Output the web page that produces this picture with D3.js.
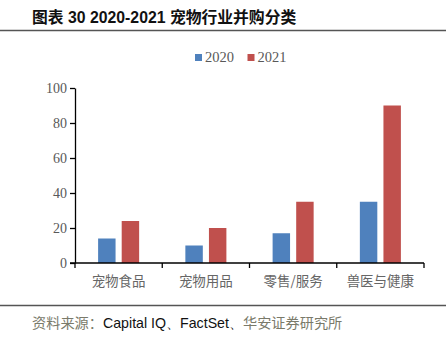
<!DOCTYPE html>
<html>
<head>
<meta charset="utf-8">
<script src="https://cdn.jsdelivr.net/npm/d3@7"></script>
<style>
  body { margin: 0; background: #fff; }
  svg { display: block; }
</style>
</head>
<body>
<svg id="chart" width="446" height="339"></svg>
<script>
// M&A deal counts by pet-industry segment, 2020 vs 2021
const categories = ['宠物食品', '宠物用品', '零售/服务', '兽医与健康'];
const years = ['2020', '2021'];
const values2020 = [14, 10, 17, 35];
const values2021 = [24, 20, 35, 90];
const yTicks = [0, 20, 40, 60, 80, 100];

const colors = { '2020': '#4F81BD', '2021': '#C0504D' };
const serif = '"Liberation Serif", "Times New Roman", serif';
const cjk = '"Noto Sans CJK SC", sans-serif';

const svg = d3.select('#chart');

// header and footer rules
svg.append('text')
  .attr('x', 32).attr('y', 23)
  .attr('font-family', '"Liberation Sans", ' + cjk)
  .attr('font-weight', 'bold')
  .attr('font-size', 15.8)
  .attr('fill', '#111')
  .text('图表 30 2020-2021 宠物行业并购分类');
svg.append('line')
  .attr('x1', 0).attr('x2', 446).attr('y1', 30.5).attr('y2', 30.5)
  .attr('stroke', '#555').attr('stroke-width', 1.5);
svg.append('line')
  .attr('x1', 0).attr('x2', 446).attr('y1', 305.5).attr('y2', 305.5)
  .attr('stroke', '#555').attr('stroke-width', 1.5);

const src = svg.append('text')
  .attr('x', 32).attr('y', 328)
  .attr('font-size', 14.2);
src.append('tspan').attr('font-family', cjk).attr('fill', '#7a7a6a').text('资料来源：');
src.append('tspan').attr('font-family', '"Liberation Sans", Arial, sans-serif').attr('fill', '#111').text('Capital IQ、FactSet、');
src.append('tspan').attr('font-family', cjk).attr('fill', '#7a7a6a').text('华安证券研究所');

// plot area
const plotLeft = 75, plotRight = 424, plotTop = 88, plotBottom = 263;

const x = d3.scaleBand()
  .domain(categories)
  .range([plotLeft, plotRight])
  .paddingInner(0)
  .paddingOuter(0);

const xInner = d3.scaleBand()
  .domain(years)
  .range([0, x.bandwidth()])
  .paddingInner(0.26)
  .paddingOuter(0.98);

const y = d3.scaleLinear()
  .domain([0, 100])
  .range([plotBottom, plotTop]);

const rows = categories.map((c, i) => ({
  category: c,
  series: [
    { year: '2020', value: values2020[i] },
    { year: '2021', value: values2021[i] }
  ]
}));

// bars
const groups = svg.append('g')
  .selectAll('g')
  .data(rows)
  .join('g')
  .attr('transform', d => `translate(${x(d.category)},0)`);

groups.selectAll('rect')
  .data(d => d.series)
  .join('rect')
  .attr('x', d => xInner(d.year))
  .attr('y', d => y(d.value))
  .attr('width', xInner.bandwidth())
  .attr('height', d => y(0) - y(d.value))
  .attr('fill', d => colors[d.year]);

// y axis
const yAxis = svg.append('g')
  .attr('transform', `translate(${plotLeft},0)`)
  .call(d3.axisLeft(y).tickValues(yTicks).tickSize(5).tickPadding(3).tickSizeOuter(0));
yAxis.select('.domain').attr('stroke', '#000').attr('stroke-width', 1.3);
yAxis.selectAll('.tick line').attr('stroke', '#000').attr('stroke-width', 1.3);
yAxis.selectAll('.tick text')
  .attr('font-family', serif)
  .attr('font-size', 14)
  .attr('fill', '#595959');

// x axis with ticks on category boundaries
const xAxis = svg.append('g')
  .attr('transform', `translate(0,${plotBottom})`);
xAxis.append('line')
  .attr('x1', plotLeft - 5).attr('x2', plotRight)
  .attr('stroke', '#000').attr('stroke-width', 1.3);
xAxis.selectAll('line.tk')
  .data(categories)
  .join('line')
  .attr('class', 'tk')
  .attr('x1', d => x(d) + x.bandwidth())
  .attr('x2', d => x(d) + x.bandwidth())
  .attr('y1', 0).attr('y2', 5)
  .attr('stroke', '#000').attr('stroke-width', 1.3);
xAxis.append('line')
  .attr('x1', plotLeft).attr('x2', plotLeft).attr('y1', 0).attr('y2', 5)
  .attr('stroke', '#000').attr('stroke-width', 1.3);
xAxis.selectAll('text')
  .data(categories)
  .join('text')
  .attr('x', d => x(d) + x.bandwidth() / 2)
  .attr('y', 23)
  .attr('text-anchor', 'middle')
  .attr('font-family', cjk)
  .attr('font-size', 13.5)
  .attr('fill', '#666')
  .text(d => d);

// legend
const legend = svg.append('g').attr('transform', 'translate(195,54)');
const legendItems = legend.selectAll('g')
  .data(years)
  .join('g')
  .attr('transform', (d, i) => `translate(${i * 52.5},0)`);
legendItems.append('rect')
  .attr('width', 7).attr('height', 7)
  .attr('fill', d => colors[d]);
legendItems.append('text')
  .attr('x', 10).attr('y', 7.5)
  .attr('font-family', serif)
  .attr('font-size', 14.5)
  .attr('fill', '#595959')
  .text(d => d);
</script>
</body>
</html>
